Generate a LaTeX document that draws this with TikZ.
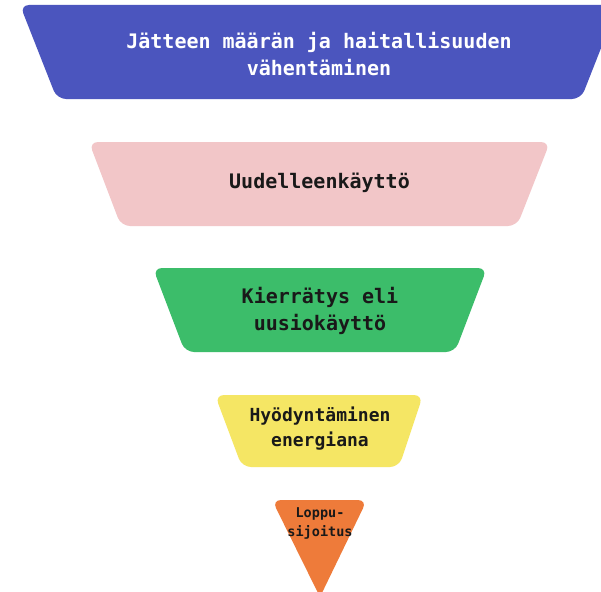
\documentclass[tikz,border=0pt]{standalone}
\usepackage{fontspec}
\newfontfamily\monob{DejaVu Sans Mono}
\definecolor{cblue}{RGB}{75,85,190}
\definecolor{cpink}{RGB}{242,198,200}
\definecolor{cgreen}{RGB}{60,189,106}
\definecolor{cyellow}{RGB}{245,230,100}
\definecolor{corange}{RGB}{238,123,58}
\definecolor{ctext}{RGB}{25,25,25}
\tikzset{
  band/.style={rounded corners=9pt},
  lbl/.style={align=center, inner sep=0pt, text=ctext, font=\monob\bfseries\fontsize{20}{27}\selectfont},
}
\begin{document}
\begin{tikzpicture}[x=1pt,y=-1pt]
\useasboundingbox (0,0) rectangle (601,591);
\fill[white] (0,0) rectangle (601,591);
% blue
\fill[cblue,band] (20,5) -- (618,5) -- (581,99) -- (57,99) -- cycle;
\node[lbl,text=white] (t1) at (319,54) {Jätteen määrän ja haitallisuuden\\vähentäminen};
% pink
\fill[cpink,band] (89,142) -- (550,142) -- (517,226) -- (121,226) -- cycle;
\node[lbl] (t2) at (319.5,183) {Uudelleenkäyttö};
% green
\fill[cgreen,band] (153,268) -- (487,268) -- (455,352) -- (185,352) -- cycle;
\node[lbl] (t3) at (320,311) {Kierrätys eli\\uusiokäyttö};
% yellow
\fill[cyellow,band] (215,395) -- (423,395) -- (399,467) -- (242,467) -- cycle;
\node[lbl,font=\monob\bfseries\fontsize{18}{25}\selectfont] (t4) at (320,429) {Hyödyntäminen\\energiana};
% orange
\fill[corange] (320,597) [rounded corners=9pt] -- (272,500) -- (367,500) [sharp corners] -- cycle;
\node[lbl,font=\monob\bfseries\fontsize{13.5}{19}\selectfont] (t5) at (320,523) {Loppu-\\sijoitus};
\end{tikzpicture}
\end{document}
